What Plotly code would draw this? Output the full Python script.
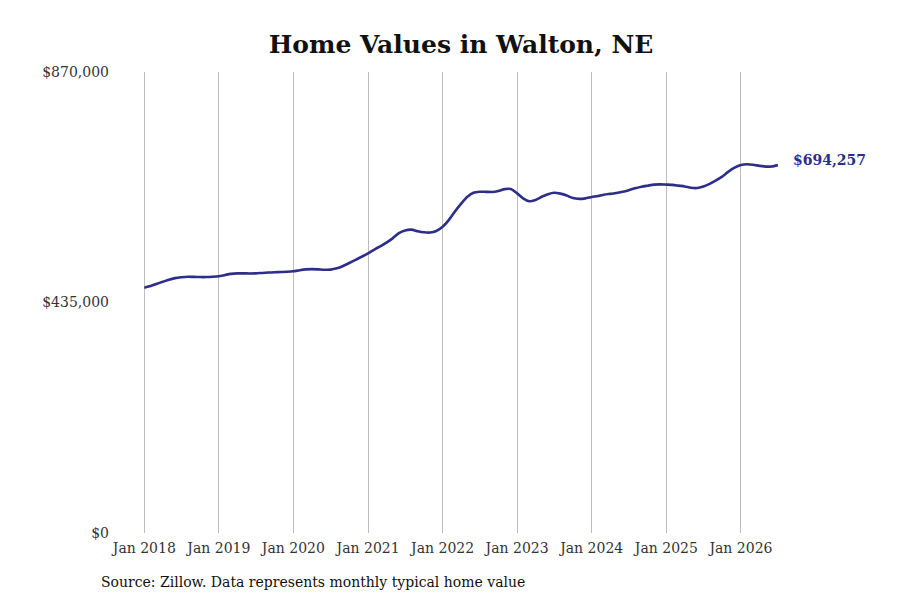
import plotly.graph_objects as go
import pandas as pd

title_text = "Home Values in Walton, NE"
source_text = "Source: Zillow. Data represents monthly typical home value"

months = pd.date_range("2018-01-01", "2026-07-01", freq="MS")
values = [
    462900, 466000, 470000, 474000, 478000, 481000, 482500, 483500, 483300, 483000, 483000, 483500,
    484500, 487000, 489000, 490000, 490000, 489800, 490000, 490800, 491500, 492000, 492500, 493000,
    494000, 496000, 497500, 498000, 497500, 496800, 497000, 499500, 504000, 509500, 515500, 521500,
    527800, 535000, 541000, 548000, 556000, 566000, 571000, 572500, 569500, 567500, 567000, 570000,
    578000, 591000, 606000, 621000, 634000, 642000, 644000, 643800, 643500, 645500, 649000, 649000,
    641000, 631000, 626000, 628500, 634500, 639500, 642000, 640500, 637000, 632000, 630500, 631500,
    634000, 636000, 638500, 640000, 641500, 644000, 647000, 650500, 653500, 655500, 657500, 658000,
    657500, 657000, 655500, 654000, 651500, 651000, 654000, 659000, 665500, 672500, 682000, 689500,
    694500, 696000, 695000, 693000, 691500, 691800, 694257,
]
y_tickvals = [0, 435000, 870000]
y_ticktext = ["$0", "$435,000", "$870,000"]

line_color = "#2d2d8a"
font_family = "DejaVu Serif"

# figure-space plot box (page adds 8px body margin)
L, R, T, B = 102, 795, 64, 525

fig = go.Figure()
fig.add_trace(go.Scatter(
    x=months, y=values, mode="lines",
    line=dict(color=line_color, width=2.6, shape="spline", smoothing=0.6),
    hoverinfo="skip", showlegend=False, cliponaxis=False,
))

fig.add_annotation(
    x=months[-1], y=values[-1], xref="x", yref="y",
    text=f"<b>${values[-1]:,}</b>", showarrow=False,
    xanchor="left", yanchor="middle", xshift=13, yshift=5,
    font=dict(family=font_family, size=14, color=line_color),
)

fig.add_annotation(
    x=(91 - L) / (R - L), y=-(574 - B) / (B - T), xref="paper", yref="paper",
    text=source_text, showarrow=False, xanchor="left", yanchor="middle",
    font=dict(family=font_family, size=14, color="#111111"),
)

fig.update_layout(
    width=900, height=600,
    paper_bgcolor="white", plot_bgcolor="white",
    margin=dict(l=L, r=900 - R, t=T, b=600 - B),
    title=dict(text=f"<b>{title_text}</b>", x=453 / 900, xanchor="center",
               y=1 - 36 / 600, yanchor="middle",
               font=dict(family=font_family, size=25, color="#111111")),
    font=dict(family=font_family),
)
fig.update_xaxes(
    range=["2017-07-17", "2026-11-01"],
    tick0="2018-01-01", dtick="M12", tickformat="%b %Y",
    showgrid=True, gridcolor="#bdbdbd", gridwidth=1,
    showline=False, zeroline=False, ticks="outside", ticklen=2, tickcolor="white",
    tickfont=dict(family=font_family, size=14, color="#333333"),
)
fig.update_yaxes(
    range=[0, 870000], tickvals=y_tickvals, ticktext=y_ticktext,
    showgrid=False, zeroline=False, showline=False, ticks="",
    tickfont=dict(family=font_family, size=14, color="#333333"),
)

fig.write_html("out.html")
